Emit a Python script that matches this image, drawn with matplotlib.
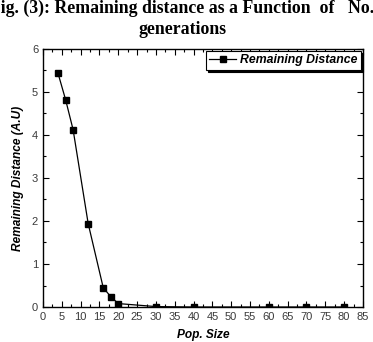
import matplotlib
matplotlib.use('Agg')
import matplotlib.pyplot as plt
from matplotlib.ticker import MultipleLocator

# data
pop_size = [4, 6, 8, 12, 16, 18, 20, 30, 40, 60, 70, 80]
remaining = [5.43, 4.82, 4.12, 1.94, 0.45, 0.24, 0.08, 0.01, 0.0, 0.0, 0.0, 0.0]
x_ticks = list(range(0, 86, 5))

plt.rcParams['font.family'] = ['Liberation Sans', 'DejaVu Sans']

fig = plt.figure(figsize=(3.73, 3.42), dpi=100)
ax = fig.add_axes([0.1153, 0.1023, 0.8577, 0.7547])

ax.plot(pop_size, remaining, color='black', lw=0.9, marker='s', ms=5,
        label='Remaining Distance')

ax.set_xlim(0, 85)
ax.set_ylim(0, 6)
ax.set_xticks(x_ticks)
ax.xaxis.set_minor_locator(MultipleLocator(2.5))
ax.yaxis.set_major_locator(MultipleLocator(1))
ax.yaxis.set_minor_locator(MultipleLocator(0.5))
ax.tick_params(which='both', direction='in', top=True, right=True,
               labelsize=8, colors='black', labelcolor='#3a3a3a', width=0.8)
ax.tick_params(which='major', length=4)
ax.tick_params(which='minor', length=2)
for s in ax.spines.values():
    s.set_linewidth(1.0)

ax.set_xlabel('Pop. Size', fontsize=8.6, fontweight='bold', style='italic', labelpad=5)
ax.set_ylabel('Remaining Distance (A.U)', fontsize=8.6, fontweight='bold',
              style='italic', labelpad=6)

leg = ax.legend(loc='upper right', frameon=True, fancybox=False,
                shadow={'color': 'black', 'alpha': 1.0, 'ox': 1.5, 'oy': -1.5},
                borderaxespad=0.15, handlelength=2.2, handletextpad=0.3,
                borderpad=0.3, prop={'weight': 'bold', 'style': 'italic', 'size': 8.8})
leg.get_frame().set_edgecolor('black')
leg.get_frame().set_linewidth(0.8)

# the reference title runs past both edges of the image
fig.text(0.488, 1.0, 'Fig. (3): Remaining distance as a Function  of   No.\ngenerations',
         ha='center', va='top', fontsize=12.8, fontweight='bold',
         family='Liberation Serif', linespacing=1.25)

fig.savefig('out.png', dpi=100)
